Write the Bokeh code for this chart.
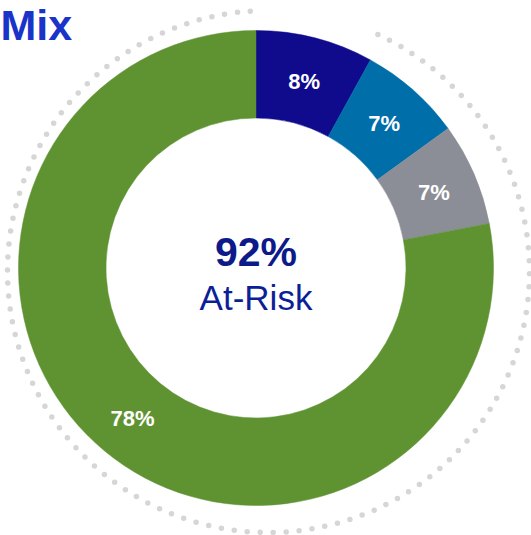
import numpy as np
from bokeh.plotting import figure
from bokeh.models import Range1d, ColumnDataSource
from bokeh.core.properties import value
from bokeh.embed import file_html
from bokeh.resources import INLINE

# ---- data ----
labels = ["8%", "7%", "7%", "78%"]
shares = [8, 7, 7, 78]
colors = ["#0f0b8c", "#006ea9", "#8c8e97", "#5f9332"]
center_value = "92%"
center_label = "At-Risk"
title = "Mix"

W, H = 531, 535
p = figure(width=W, height=H, output_backend="svg", toolbar_location=None,
           x_range=Range1d(0, W), y_range=Range1d(0, H), min_border=0,
           background_fill_color="white", border_fill_color="white")
p.axis.visible = False
p.grid.visible = False
p.outline_line_color = None

# geometry
cx, cy = 255.5, H - 267.5
r_in, r_out = 150, 237.5

vals = np.array(shares, dtype=float)
frac = vals / vals.sum()
cum = np.concatenate([[0], np.cumsum(frac)])
start = np.pi / 2 - cum[:-1] * 2 * np.pi
end = np.pi / 2 - cum[1:] * 2 * np.pi
mid = (start + end) / 2
r_lab = (r_in + r_out) / 2

src = ColumnDataSource(dict(start=start, end=end, color=colors, label=labels,
                            lx=cx + r_lab * np.cos(mid), ly=cy + r_lab * np.sin(mid) - 1))

# dotted ring (decorative, with a gap near the top)
p.arc(x=268, y=H - 271, radius=261, start_angle=np.deg2rad(94),
      end_angle=np.deg2rad(66 + 360), direction="anticlock",
      line_color="#d6d6d6", line_width=5.5, line_dash="0 13", line_cap="round")

p.annular_wedge(x=cx, y=cy, inner_radius=r_in, outer_radius=r_out,
                start_angle="start", end_angle="end", direction="clock",
                fill_color="color", line_color="color", line_width=0.5, source=src)

p.text(x="lx", y="ly", text="label", source=src, text_color="white",
       text_font=value("Liberation Sans"), text_font_style="bold",
       text_font_size="22px", text_align="center", text_baseline="middle")

p.text(x=[cx], y=[H - 251], text=[center_value], text_color="#0d1a8a",
       text_font=value("Liberation Sans"), text_font_style="bold",
       text_font_size="41px", text_align="center", text_baseline="middle")
p.text(x=[cx], y=[H - 297], text=[center_label], text_color="#0d1f96",
       text_font=value("Liberation Sans"), text_font_size="35px",
       text_align="center", text_baseline="middle")

p.text(x=[0], y=[H - 0.5], text=[title], text_color="#1a33c8",
       text_font=value("Liberation Sans"), text_font_style="bold",
       text_font_size="43px", text_align="left", text_baseline="top")

open("out.html", "w").write(file_html(p, INLINE))
